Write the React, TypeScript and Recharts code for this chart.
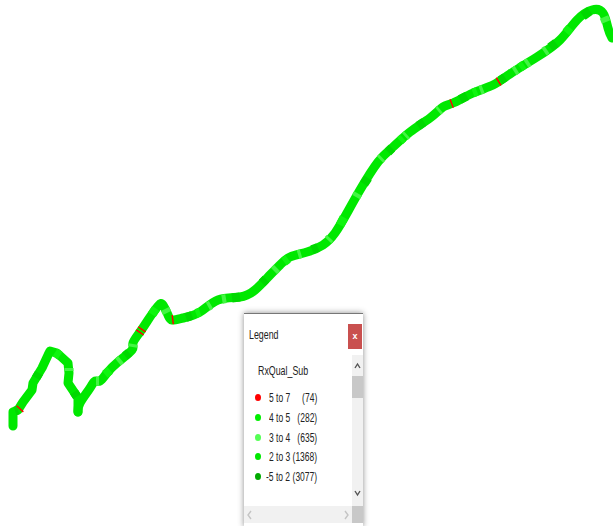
import { LineChart, Line, XAxis, YAxis } from 'recharts';

const WIDTH = 613;
const HEIGHT = 526;

// drive route (x, y with y growing downward), split at the sharp turn
const startX = [13, 13, 18, 23, 32, 33, 42, 49, 50, 57, 68, 69, 68, 78, 78];
const startY = [426, 412, 410, 402, 390, 383, 368, 353, 351, 353, 363, 373, 383, 398, 412];
const routeX = [78, 80, 90, 95, 100, 107, 118, 132, 133, 140, 148, 158, 163, 168, 172, 183, 200, 218, 240, 255, 270, 280, 290, 307, 323, 335, 347, 360, 378, 393, 410, 430, 443, 453, 473, 493, 510, 537, 560, 577, 592, 603, 608, 612];
const routeY = [412, 403, 388, 381, 381, 373, 362, 350, 343, 332, 320, 306, 305, 315, 320, 318, 312, 300, 297, 290, 275, 265, 257, 252, 245, 233, 213, 190, 162, 147, 132, 118, 107, 103, 93, 85, 74, 57, 40, 20, 10, 13, 28, 38];

// short pieces of the route per quality class, null separates them
const redX = [19.5, 20.5, null, 139.5, 140.3, null, 141.5, 142.3, null, 172, 173.5, null, 451, 452.3, null, 498, 499.3];
const redY = [409.4, 408.3, null, 333, 331.8, null, 330, 328.8, null, 319.7, 319.5, null, 103.8, 103.3, null, 82, 81.2];

const lightX = [69, 69, null, 96, 99, null, 118, 121, null, 132.5, 133, null, 165, 167, null, 208, 211, null, 222, 226, null, 274, 277, null, 298, 301, null, 328, 330, null, 356, 358, null, 380, 382, null, 405, 407, null, 438, 440, null, 480, 483, null, 514, 517, null, 526, 529, null, 544, 547, null, 604, 606];
const lightY = [368, 371, null, 381, 381, null, 362, 359.5, null, 347, 344, null, 309, 313, null, 306.5, 304.8, null, 299.3, 298.6, null, 271, 268, null, 254.6, 253.7, null, 240.1, 238, null, 197, 193.5, null, 159.5, 157.5, null, 136.4, 134.6, null, 111, 109.3, null, 90.2, 89, null, 71.5, 69.6, null, 64, 62, null, 51.8, 49.7, null, 17, 22];

const darkX = [15, 18, null, 36, 39, null, 74, 77, null, 125, 129, null, 186, 192, null, 232, 240, null, 262, 266, null, 312, 318, null, 364, 368, null, 388, 392, null, 418, 424, null, 460, 467, null, 500, 505, null, 550, 556, null, 583, 590];
const darkY = [411, 410, null, 378, 373, null, 392, 396.7, null, 356, 352.6, null, 317.4, 315.4, null, 298, 297, null, 283, 279, null, 249.8, 247.4, null, 184, 178, null, 152, 148, null, 126, 122, null, 99.5, 96, null, 80.6, 77.3, null, 47.4, 43, null, 16, 11];

const midX = [55, 60, null, 105, 110, null, 152, 156, null, 196, 200, null, 284, 288, null, 340, 344, null, 400, 403, null, 473, 477, null, 520, 524, null, 566, 570];
const midY = [352.4, 355.7, null, 374.4, 370.3, null, 314.4, 308.4, null, 313.4, 312, null, 261.8, 258.8, null, 225, 217.4, null, 140.8, 138, null, 93, 91.4, null, 67.5, 64.8, null, 32.5, 27.9];

const legendLabels = ['5 to 7', '4 to 5', '3 to 4', '2 to 3', '-5 to 2'];
const legendCounts = ['(74)', '(282)', '(635)', '(1368)', '(3077)'];
const legendColors = ['#ff0000', '#00ee00', '#55ff55', '#00e800', '#00aa00'];

const toRows = (xs: (number | null)[], ys: (number | null)[]) => xs.map((x, i) => ({ x, y: ys[i] }));

// break points have no x of their own, the scale needs one
const pieces = (xs: (number | null)[], ys: (number | null)[]) =>
  toRows(xs, ys).map((row, i) => (row.x === null ? { x: xs[i - 1], y: null } : row));

const narrow = { display: 'inline-block', transform: 'scaleX(0.68)', transformOrigin: 'left center', whiteSpace: 'nowrap' } as const;

const LegendBox = () => (
  <div style={{ position: 'absolute', left: 244, top: 313, width: 119, height: 213, background: '#fff', borderTop: '1px solid #777', boxShadow: '0 0 6px rgba(0,0,0,0.45)', fontFamily: '"Liberation Sans", Arial, sans-serif', fontSize: 13, color: '#222' }}>
    <div style={{ position: 'absolute', left: 5, top: 13 }}><span style={narrow}>Legend</span></div>
    <div style={{ position: 'absolute', left: 104, top: 10, width: 14, height: 25, background: '#c9504f', color: '#fff', fontSize: 9, fontWeight: 700, textAlign: 'center', lineHeight: '25px' }}>x</div>
    <div style={{ position: 'absolute', left: 14, top: 49 }}><span style={narrow}>RxQual_Sub</span></div>
    {legendLabels.map((label, i) => (
      <div key={label} style={{ position: 'absolute', left: 0, top: 76 + i * 19.8, width: 108, height: 16, fontSize: 12.5, lineHeight: '16px' }}>
        <div style={{ position: 'absolute', left: 11, top: 4, width: 6, height: 7, borderRadius: '50%', background: legendColors[i] }} />
        <span style={{ ...narrow, position: 'absolute', left: i === 4 ? 22 : 25 }}>{label}</span>
        <span style={{ ...narrow, position: 'absolute', right: 35, transformOrigin: 'right center' }}>{legendCounts[i]}</span>
      </div>
    ))}
    <div style={{ position: 'absolute', left: 108, top: 41, width: 11, height: 151, background: '#f1f1f1' }}>
      <div style={{ position: 'absolute', left: 0, top: 21, width: 11, height: 22, background: '#c8c8c8' }} />
      <svg width={11} height={151} style={{ position: 'absolute', left: 0, top: 0 }}>
        <path d="M3 13 L5.5 9 L8 13" fill="none" stroke="#555" strokeWidth={1.4} />
        <path d="M3 136 L5.5 140 L8 136" fill="none" stroke="#555" strokeWidth={1.4} />
      </svg>
    </div>
    <div style={{ position: 'absolute', left: 0, top: 192, width: 108, height: 17, background: '#f1f1f1' }}>
      <svg width={108} height={17} style={{ position: 'absolute', left: 0, top: 0 }}>
        <path d="M7 5 L4 9 L7 13" fill="none" stroke="#c4c4c4" strokeWidth={1.4} />
        <path d="M101 5 L104 9 L101 13" fill="none" stroke="#c4c4c4" strokeWidth={1.4} />
      </svg>
    </div>
    <div style={{ position: 'absolute', left: 108, top: 192, width: 11, height: 17, background: '#c8c8c8' }} />
  </div>
);

const TRACK_WIDTH = 9;

const trackLine = (name: string, rows: object[], curve: 'linear' | 'natural') => (
  <Line
    key={name + curve}
    type={curve}
    data={rows}
    dataKey="y"
    name={name}
    stroke={legendColors[3]}
    strokeWidth={TRACK_WIDTH}
    strokeLinejoin="round"
    strokeLinecap="round"
    dot={false}
    activeDot={false}
    isAnimationActive={false}
  />
);

const segmentLine = (name: string, rows: object[], color: string) => (
  <Line
    key={name}
    data={rows}
    dataKey="y"
    name={name}
    stroke={color}
    strokeWidth={TRACK_WIDTH}
    strokeLinecap="butt"
    dot={false}
    activeDot={false}
    connectNulls={false}
    isAnimationActive={false}
  />
);

export default function App() {
  return (
    <div style={{ position: 'absolute', left: 0, top: 0, width: WIDTH, height: HEIGHT, overflow: 'hidden', background: '#fff' }}>
      <LineChart width={WIDTH} height={HEIGHT} margin={{ top: 0, right: 0, bottom: 0, left: 0 }}>
        <XAxis type="number" dataKey="x" domain={[0, WIDTH]} hide allowDuplicatedCategory={false} />
        <YAxis type="number" domain={[0, HEIGHT]} reversed hide />
        {trackLine(legendLabels[3], toRows(startX, startY), 'linear')}
        {trackLine(legendLabels[3], toRows(routeX, routeY), 'natural')}
        {segmentLine(legendLabels[1], pieces(midX, midY), '#10f510')}
        {segmentLine(legendLabels[4], pieces(darkX, darkY), '#00d800')}
        {segmentLine(legendLabels[2], pieces(lightX, lightY), '#44f544')}
        {segmentLine(legendLabels[0], pieces(redX, redY), legendColors[0])}
      </LineChart>
      <LegendBox />
    </div>
  );
}
